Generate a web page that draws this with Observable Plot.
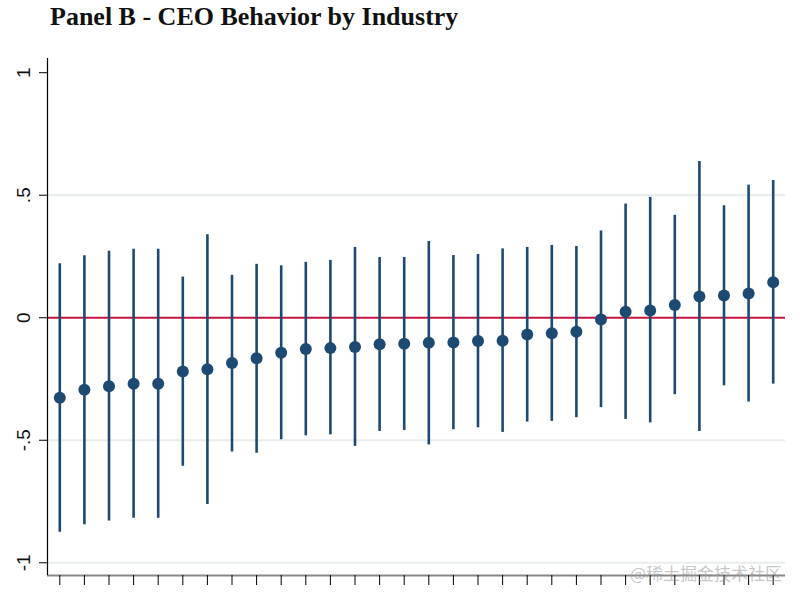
<!DOCTYPE html>
<html>
<head>
<meta charset="utf-8">
<script src="https://cdn.jsdelivr.net/npm/d3@7"></script>
<script src="https://cdn.jsdelivr.net/npm/@observablehq/plot@0.6"></script>
<style>
  body { margin: 0; background: #fff; }
  #title { height: 40px; box-sizing: border-box; padding-left: 50px; padding-top: 3px;
           font-family: "Liberation Serif", "DejaVu Serif", serif; font-weight: bold;
           font-size: 26px; line-height: 28px; color: #111; }
  #wrap { position: relative; width: 800px; height: 560px; }
  #wm { position: absolute; left: 630px; top: 520px; font-family: "Noto Sans CJK SC", sans-serif;
        font-size: 17px; color: rgba(150,150,150,0.55); white-space: nowrap; }
</style>
</head>
<body>
<div id="title">Panel B - CEO Behavior by Industry</div>
<div id="wrap"><div id="chart"></div><div id="wm">@稀土掘金技术社区</div></div>
<script>
const industry = [1,2,3,4,5,6,7,8,9,10,11,12,13,14,15,16,17,18,19,20,21,22,23,24,25,26,27,28,29,30];
const estimate = [-0.327,-0.294,-0.280,-0.269,-0.269,-0.219,-0.210,-0.185,-0.165,-0.143,
                  -0.128,-0.124,-0.119,-0.108,-0.106,-0.102,-0.101,-0.095,-0.094,-0.068,
                  -0.063,-0.057,-0.007,0.024,0.030,0.052,0.087,0.091,0.099,0.145];
const upper = [0.220,0.253,0.271,0.279,0.279,0.166,0.339,0.173,0.218,0.212,
               0.226,0.234,0.287,0.246,0.246,0.311,0.254,0.258,0.281,0.287,
               0.295,0.291,0.354,0.464,0.491,0.418,0.638,0.457,0.541,0.560];
const lower = [-0.875,-0.845,-0.830,-0.818,-0.818,-0.606,-0.762,-0.548,-0.553,-0.498,
               -0.482,-0.478,-0.525,-0.464,-0.460,-0.519,-0.457,-0.449,-0.468,-0.426,
               -0.423,-0.408,-0.367,-0.415,-0.429,-0.314,-0.464,-0.278,-0.344,-0.271];
const yTicks = [-1, -0.5, 0, 0.5, 1];
const yTickLabels = ["-1", "-.5", "0", ".5", "1"];
const gridValues = [-1, -0.5, 0.5];

const data = industry.map((d, i) => ({x: d, est: estimate[i], lo: lower[i], hi: upper[i]}));
const navy = "#1d4a72";

const chart = Plot.plot({
  width: 800, height: 560,
  marginTop: 18, marginBottom: 25, marginLeft: 47, marginRight: 15,
  style: {background: "#fff"},
  x: {domain: [0.5, 30.5], axis: null},
  y: {domain: [-1.052, 1.058], axis: null},
  marks: [
    Plot.ruleY(gridValues, {stroke: "#e8eef0", strokeWidth: 2.2}),
    Plot.ruleY([0], {stroke: "#c4173f", strokeWidth: 2.2}),
    Plot.ruleX(data, {x: "x", y1: "lo", y2: "hi", stroke: navy, strokeWidth: 2.6}),
    Plot.dot(data, {x: "x", y: "est", r: 6, fill: navy, stroke: "none"}),
    Plot.ruleY([-1.052], {stroke: "#888", strokeWidth: 1.8}),
    Plot.ruleX([0.5], {stroke: "#000", strokeWidth: 1.2}),
    Plot.axisY({ticks: yTicks, tickSize: 8, tickFormat: () => "", stroke: "#000", label: null}),
    Plot.text(yTicks, {y: d => d, text: (d, i) => yTickLabels[i], frameAnchor: "left", dx: -18,
      rotate: -90, textAnchor: "middle", lineAnchor: "bottom",
      fontSize: 19, fontFamily: "Liberation Sans, Arial, sans-serif", fill: "#111"}),
    Plot.axisX({ticks: industry, tickSize: 10, tickFormat: () => "", stroke: "#000", label: null})
  ]
});
document.getElementById("chart").appendChild(chart);
</script>
</body>
</html>
